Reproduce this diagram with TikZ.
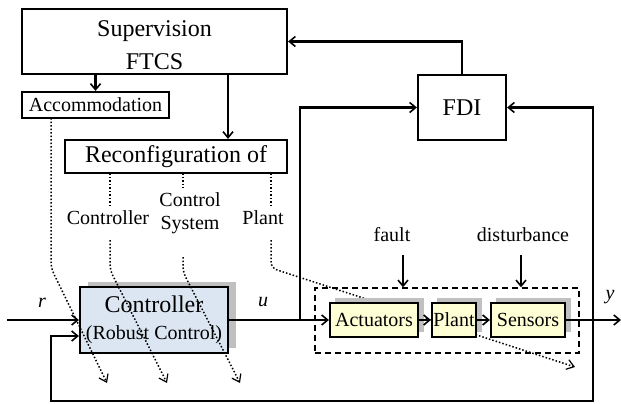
\documentclass[tikz,border=0pt]{standalone}
\usepackage{fontspec}
\setmainfont{Liberation Serif}
\usetikzlibrary{arrows.meta,calc}
\definecolor{ctrlblue}{HTML}{DCE6F2}
\definecolor{blockyellow}{HTML}{FFFFD6}
\definecolor{shadegray}{HTML}{C0C0C0}
\begin{document}
\begin{tikzpicture}[x=1pt,y=-1pt,
  every node/.style={inner sep=0pt},
  blk/.style={draw, line width=2.2pt, minimum width=#1},
  big/.style={font=\fontsize{24}{33}\selectfont},
  mid/.style={font=\fontsize{20}{23}\selectfont},
  shade/.style={fill=shadegray, draw=none},
  flow/.style={line width=2.2pt, -{Straight Barb[length=6pt,width=10pt,line width=1.6pt]}},
  plain/.style={line width=2.2pt},
  hint/.style={line width=1.5pt, dotted, rounded corners=6pt,
    -{Straight Barb[length=7pt,width=10pt,line width=1.2pt]}},
  hintline/.style={line width=1.5pt, dotted}]
\useasboundingbox (0,0) rectangle (621,404);

% supervision level
\node[blk=265pt, minimum height=65pt, big, align=center] (sup) at (154.5,41.5) {\strut Supervision\\FTCS};
\node[blk=147pt, minimum height=26pt, mid] (acc) at (95.5,105) {Accommodation};
\node[blk=222pt, minimum height=33pt, big] (rec) at (176,156.5) {Reconfiguration of};
\node[blk=88pt, minimum height=65pt, big] (fdi) at (462,107.5) {FDI};

% reconfiguration targets
\node[mid] (lctrl) at (108,218) {Controller};
\node[mid, align=center] (lsys) at (190,213) {Control\\System};
\node[mid] (lplant) at (263,218) {Plant};

% dotted line running under the plant blocks
\draw[hintline] (271,173) -- (271,205);
\draw[hint] (271,240) -- (271,268) -- (575,367);

% dashed frame around the plant
\node[draw, dash pattern=on 6pt off 4pt, line width=1.4pt, minimum width=264pt, minimum height=65pt] (dash) at (447,320.5) {};

% plant blocks with shades
\node[shade, minimum width=89pt, minimum height=34pt] at (379.5,315) {};
\node[shade, minimum width=45pt, minimum height=34pt] at (459.5,315) {};
\node[shade, minimum width=75pt, minimum height=34pt] at (533.5,315) {};
\node[blk=88pt, minimum height=34pt, fill=blockyellow, mid] (act) at (374,320) {Actuators};
\node[blk=44pt, minimum height=34pt, fill=blockyellow, mid] (plant) at (454,320) {Plant};
\node[blk=74pt, minimum height=34pt, fill=blockyellow, mid] (sen) at (528,320) {Sensors};

% controller with shade
\node[shade, minimum width=148pt, minimum height=66pt] at (162,315) {};
\node[blk=148pt, minimum height=66pt, fill=ctrlblue, align=center,
  font=\fontsize{24}{27}\selectfont] (ctrl) at (154,320)
  {Controller\\{\fontsize{20}{22}\selectfont (Robust Control)}};

% signal labels
\node[mid] (lr) at (42,303) {\textit{r}};
\node[mid] (lu) at (263,302) {\textit{u}};
\node[mid] (ly) at (610,297) {\textit{y}};
\node[mid] (lfault) at (392,235) {fault};
\node[mid] (ldist) at (523,235) {disturbance};

% junctions and end points
\coordinate (in) at (7,320);
\coordinate (j) at (300,320);
\coordinate (k) at (593,320);
\coordinate (out) at (621,320);
\coordinate (fb) at (593,401);
\coordinate (fbl) at (51,401);
\coordinate (fa) at (403,255);
\coordinate (da) at (521,255);

% supervision connectors
\draw[flow] (acc.north |- sup.south) -- (acc.north);
\draw[flow] ([xshift=73.5pt]sup.south) -- ([xshift=73.5pt]sup.south |- rec.north);
\draw[flow] (fdi.north) |- (sup.east);
\draw[flow] (j) |- (fdi.west);
\draw[flow] (k) |- (fdi.east);

% main loop
\draw[flow] (in) -- (ctrl.west);
\draw[plain] (ctrl.east) -- (j);
\draw[flow] (j) -- (act.west);
\draw[flow] (act.east) -- (plant.west);
\draw[flow] (plant.east) -- (sen.west);
\draw[flow] (sen.east) -- (out);
\draw[flow] (k) -- (fb) -- (fbl) |- ([yshift=-16pt]ctrl.west);

% disturbances
\draw[flow] (fa) -- (fa |- dash.north);
\draw[flow] (da) -- (da |- dash.north);

% dotted reconfiguration hints
\draw[hint] (51,118) -- (51,268) -- (107,383);
\draw[hintline] (110,173) -- (110,205);
\draw[hint] (110,240) -- (110,270) -- (167,383);
\draw[hintline] (183,173) -- (183,188);
\draw[hint] (183,257) -- (183,272) -- (240,383);
\end{tikzpicture}
\end{document}
